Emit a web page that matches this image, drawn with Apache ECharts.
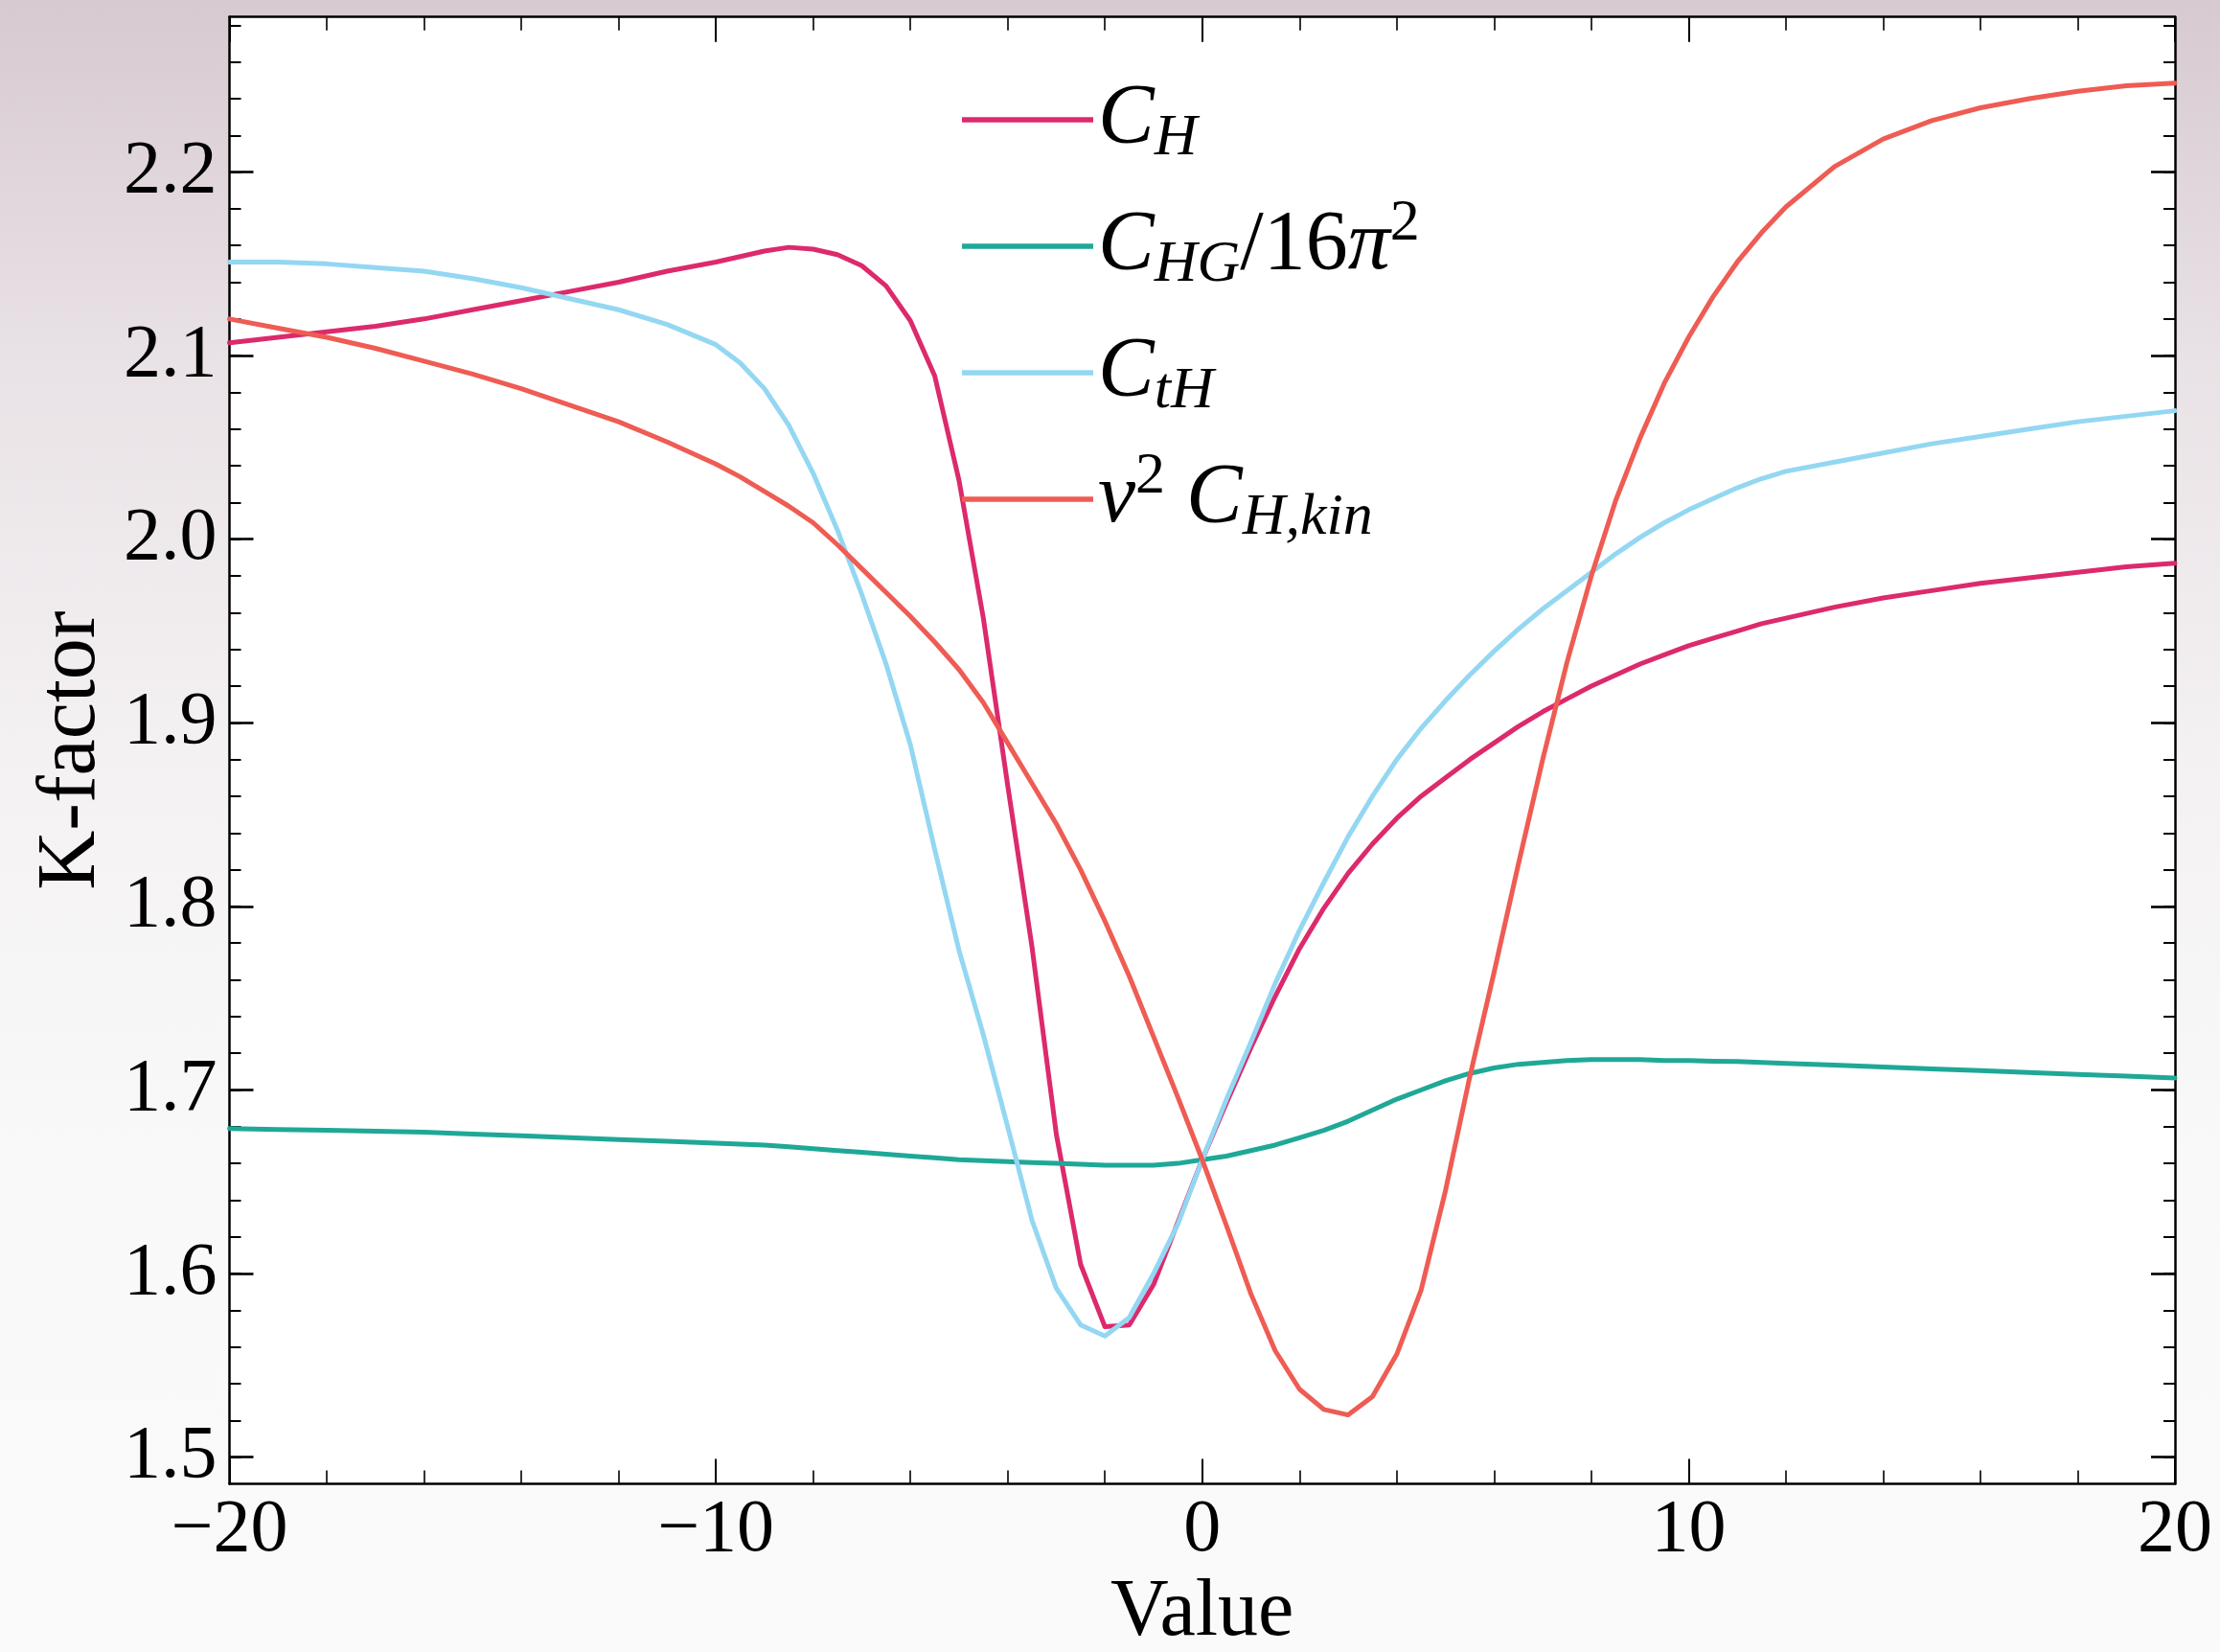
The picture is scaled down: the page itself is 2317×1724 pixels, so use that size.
<!DOCTYPE html>
<html>
<head>
<meta charset="utf-8">
<script src="https://cdn.jsdelivr.net/npm/echarts@6/dist/echarts.min.js"></script>
<style>
  html, body { margin: 0; padding: 0; }
  #chart {
    width: 2317px; height: 1724px;
    background: linear-gradient(to bottom, #d7cad1 0%, #e9e2e6 22%, #f4f1f2 45%, #f9f9f9 70%, #fafafa 100%);
  }
</style>
</head>
<body>
<div id="chart"></div>
<script>
// Sample positions shared by all four curves (finer where the curves bend)
const xs = [-20, -19, -18, -17, -16, -15, -14, -13, -12, -11, -10,
            -9.5, -9, -8.5, -8, -7.5, -7, -6.5, -6, -5.5, -5, -4.5, -4, -3.5, -3, -2.5, -2, -1.5, -1, -0.5,
            0, 0.5, 1, 1.5, 2, 2.5, 3, 3.5, 4, 4.5, 5, 5.5, 6, 6.5, 7, 7.5, 8, 8.5, 9, 9.5, 10, 10.5, 11, 11.5, 12,
            13, 14, 15, 16, 17, 18, 19, 20];

// K-factor of each operator
const kCH = [2.107, 2.110, 2.113, 2.116, 2.120, 2.125, 2.130, 2.135, 2.140, 2.146, 2.151,
             2.154, 2.157, 2.159, 2.158, 2.155, 2.149, 2.138, 2.119, 2.089, 2.032, 1.957, 1.866, 1.778, 1.676, 1.605, 1.571, 1.572, 1.594, 1.628,
             1.662, 1.693, 1.723, 1.751, 1.777, 1.799, 1.818, 1.834, 1.848, 1.860, 1.870, 1.880, 1.889, 1.898, 1.906, 1.913, 1.920, 1.926, 1.932, 1.937, 1.942, 1.946, 1.950, 1.954, 1.957,
             1.963, 1.968, 1.972, 1.976, 1.979, 1.982, 1.985, 1.987];
const kCHG = [1.679, 1.6785, 1.678, 1.6775, 1.677, 1.676, 1.675, 1.674, 1.673, 1.672, 1.671,
              1.6705, 1.670, 1.669, 1.668, 1.667, 1.666, 1.665, 1.664, 1.663, 1.662, 1.6615, 1.661, 1.6605, 1.660, 1.6595, 1.659, 1.659, 1.659, 1.660,
              1.662, 1.664, 1.667, 1.670, 1.674, 1.678, 1.683, 1.689, 1.695, 1.700, 1.705, 1.709, 1.712, 1.714, 1.715, 1.716, 1.7165, 1.7165, 1.7165, 1.716, 1.716, 1.7157, 1.7155, 1.715, 1.7145,
              1.7135, 1.7125, 1.7115, 1.7105, 1.7095, 1.7085, 1.7075, 1.7065];
const kCtH = [2.151, 2.151, 2.150, 2.148, 2.146, 2.142, 2.137, 2.131, 2.125, 2.117, 2.106,
              2.096, 2.082, 2.062, 2.036, 2.005, 1.970, 1.932, 1.888, 1.831, 1.776, 1.730, 1.680, 1.629, 1.592, 1.572, 1.566, 1.576, 1.600, 1.627,
              1.662, 1.695, 1.726, 1.758, 1.787, 1.813, 1.838, 1.860, 1.880, 1.897, 1.912, 1.926, 1.939, 1.951, 1.962, 1.972, 1.982, 1.992, 2.001, 2.009, 2.016, 2.022, 2.028, 2.033, 2.037,
              2.042, 2.047, 2.052, 2.056, 2.060, 2.064, 2.067, 2.070];
const kCHkin = [2.120, 2.115, 2.110, 2.104, 2.097, 2.090, 2.082, 2.073, 2.064, 2.053, 2.041,
                2.034, 2.026, 2.018, 2.009, 1.997, 1.984, 1.971, 1.958, 1.944, 1.929, 1.911, 1.889, 1.867, 1.845, 1.820, 1.792, 1.762, 1.729, 1.696,
                1.662, 1.626, 1.589, 1.558, 1.537, 1.526, 1.523, 1.533, 1.556, 1.591, 1.645, 1.707, 1.764, 1.823, 1.880, 1.933, 1.980, 2.021, 2.055, 2.085, 2.110, 2.132, 2.151, 2.167, 2.181,
                2.203, 2.218, 2.228, 2.235, 2.240, 2.244, 2.247, 2.2485];

const seriesNames = ['C_H', 'C_HG/16pi2', 'C_tH', 'v2 C_H,kin'];
const seriesColors = ['#dc2a6c', '#1fa897', '#93d7f2', '#ee5c53'];

// Tick positions of the K-factor axis
const yMajorTicks = [1.5, 1.6, 1.7, 1.8, 1.9, 2.0, 2.1, 2.2];
const yMinorTicks = [1.50, 1.52, 1.54, 1.56, 1.58, 1.60, 1.62, 1.64, 1.66, 1.68, 1.70, 1.72, 1.74, 1.76, 1.78,
                     1.80, 1.82, 1.84, 1.86, 1.88, 1.90, 1.92, 1.94, 1.96, 1.98, 2.00, 2.02, 2.04, 2.06, 2.08,
                     2.10, 2.12, 2.14, 2.16, 2.18, 2.20, 2.22, 2.24, 2.26, 2.28];
const yRange = [1.4854, 2.2845];
const xRange = [-20, 20];

const FONT = 'Liberation Serif';
const chart = echarts.init(document.getElementById('chart'), null, { renderer: 'canvas' });

const legendText = {
  'C_H': '{c|C}{s|H}',
  'C_HG/16pi2': '{c|C}{s|HG}{r|/16}{p|\u03c0}{u|2}',
  'C_tH': '{c|C}{s|tH}',
  'v2 C_H,kin': '{c|v}{u|2}{c| C}{s|H,kin}'
};

function xAxisDef(pos, withLabels) {
  return {
    type: 'value', position: pos, min: xRange[0], max: xRange[1], interval: 10,
    axisLine: { show: true, onZero: false, lineStyle: { color: '#000', width: 2.5 } },
    axisTick: { show: true, inside: true, length: 26, lineStyle: { color: '#000', width: 2 } },
    minorTick: { show: true, splitNumber: 5, length: 14, lineStyle: { color: '#000', width: 1.6 } },
    splitLine: { show: false }, minorSplitLine: { show: false },
    axisLabel: {
      show: withLabels, margin: 10, color: '#000', fontFamily: FONT, fontSize: 78,
      formatter: v => (v < 0 ? '\u2212' + Math.abs(v) : String(v))
    },
    name: withLabels ? 'Value' : '', nameLocation: 'middle', nameGap: 90,
    nameTextStyle: { color: '#000', fontFamily: FONT, fontSize: 84 }
  };
}

function yAxisDef(pos, ticks, len, width, withLine, withLabels) {
  return {
    type: 'value', position: pos, min: yRange[0], max: yRange[1],
    axisLine: { show: withLine, onZero: false, lineStyle: { color: '#000', width: 2.5 } },
    axisTick: { show: true, inside: true, length: len, customValues: ticks, lineStyle: { color: '#000', width: width } },
    splitLine: { show: false },
    axisLabel: {
      show: withLabels, customValues: yMajorTicks, margin: 13, color: '#000', fontFamily: FONT, fontSize: 78,
      formatter: v => v.toFixed(1)
    },
    name: withLabels ? 'K-factor' : '', nameLocation: 'middle', nameGap: 120,
    nameTextStyle: { color: '#000', fontFamily: FONT, fontSize: 86 }
  };
}

const allK = [kCH, kCHG, kCtH, kCHkin];

chart.setOption({
  backgroundColor: 'transparent',
  animation: false,
  grid: {
    left: 239.5, right: 47, top: 17.7, bottom: 175.4,
    outerBoundsMode: 'none', containLabel: false,
    show: true, backgroundColor: '#ffffff', borderWidth: 0
  },
  xAxis: [xAxisDef('bottom', true), xAxisDef('top', false)],
  yAxis: [
    yAxisDef('left', yMajorTicks, 25, 2.6, true, true),
    yAxisDef('left', yMinorTicks, 12, 2, false, false),
    yAxisDef('right', yMajorTicks, 25, 2.6, true, false),
    yAxisDef('right', yMinorTicks, 12, 2, false, false)
  ],
  legend: {
    orient: 'vertical', left: 999, top: 69, itemWidth: 137, itemHeight: 5.5, itemGap: 27,
    selectedMode: false,
    icon: 'rect',
    data: seriesNames,
    formatter: name => legendText[name],
    textStyle: {
      color: '#000', fontFamily: FONT,
      rich: {
        c: { fontSize: 88, fontStyle: 'italic', fontFamily: FONT, color: '#000', lineHeight: 100 },
        s: { fontSize: 62, fontStyle: 'italic', fontFamily: FONT, color: '#000', lineHeight: 60, padding: [40, 0, 0, 0] },
        r: { fontSize: 88, fontFamily: FONT, color: '#000', lineHeight: 100 },
        p: { fontSize: 88, fontStyle: 'italic', fontFamily: FONT, color: '#000', lineHeight: 100 },
        u: { fontSize: 62, fontFamily: FONT, color: '#000', lineHeight: 54, padding: [0, 0, 46, 0] }
      }
    }
  },
  series: seriesNames.map((name, i) => ({
    name: name,
    type: 'line',
    xAxisIndex: 0, yAxisIndex: 0,
    data: xs.map((x, j) => [x, allK[i][j]]),
    showSymbol: false, symbol: 'none',
    smooth: false,
    clip: true,
    color: seriesColors[i],
    lineStyle: { color: seriesColors[i], width: 5, cap: 'round', join: 'round' },
    itemStyle: { color: seriesColors[i] },
    z: 2 + i
  }))
});
</script>
</body>
</html>
